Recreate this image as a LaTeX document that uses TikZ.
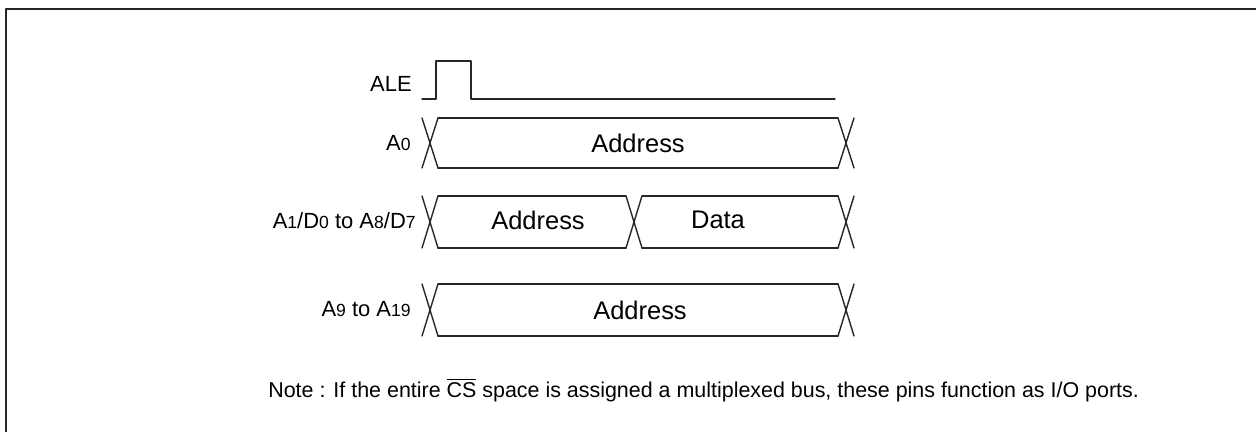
\documentclass[tikz,border=0pt]{standalone}
\usepackage{fontspec}
\setmainfont{Liberation Sans}
\newcommand{\pinno}[1]{{\fontsize{10}{11}\selectfont #1}}
\begin{document}
\begin{tikzpicture}[x=0.02cm, y=-0.02cm, line join=round, line cap=round,
		font=\fontsize{12.5}{14}\selectfont,
		wave/.style={line width=0.8pt, black!85},
		frame/.style={line width=1.5pt, black!85},
		lbl/.style={anchor=east, inner sep=0pt},
		bus/.style={font=\fontsize{14.5}{16}\selectfont}]
	\useasboundingbox (0,0) rectangle (1256,432);
	\draw[frame] (6,432) -- (6,9) -- (1256,9);
	% ALE
	\node[lbl] (ale) at (412,84) {ALE};
	\draw[wave] (422,99) -- (436,99) -- (436,61) -- (471,61) -- (471,99) -- (835,99);
	% bus rows
	\foreach \yt/\yb in {118/168, 196/248, 284/336} {
		\foreach \xa in {422, 838}
			\draw[wave] (\xa,\yt) -- (\xa+16,\yb) (\xa+16,\yt) -- (\xa,\yb);
	}
	\draw[wave] (438,118) -- (838,118) (438,168) -- (838,168);
	\draw[wave] (438,284) -- (838,284) (438,336) -- (838,336);
	\draw[wave] (626,196) -- (642,248) (642,196) -- (626,248);
	\draw[wave] (438,196) -- (626,196) (438,248) -- (626,248);
	\draw[wave] (642,196) -- (838,196) (642,248) -- (838,248);
	\node[lbl] (a0) at (411,143) {A\pinno{0}};
	\node[lbl] (ad) at (416,221) {A\pinno{1}/D\pinno{0} to A\pinno{8}/D\pinno{7}};
	\node[lbl] (ahi) at (411,309) {A\pinno{9} to A\pinno{19}};
	\node[bus] (addr0) at (638,143) {Address};
	\node[bus] (addr1) at (538,220) {Address};
	\node[bus] (data) at (718,220) {Data};
	\node[bus] (addr2) at (640,310) {Address};
	% note
	\node[anchor=west, inner sep=0pt, font=\fontsize{12.2}{14}\selectfont] (note) at (268,390)
		{Note : If the entire $\overline{\hbox{CS}}$ space is assigned a multiplexed bus, these pins function as I/O ports.};
\end{tikzpicture}
\end{document}
